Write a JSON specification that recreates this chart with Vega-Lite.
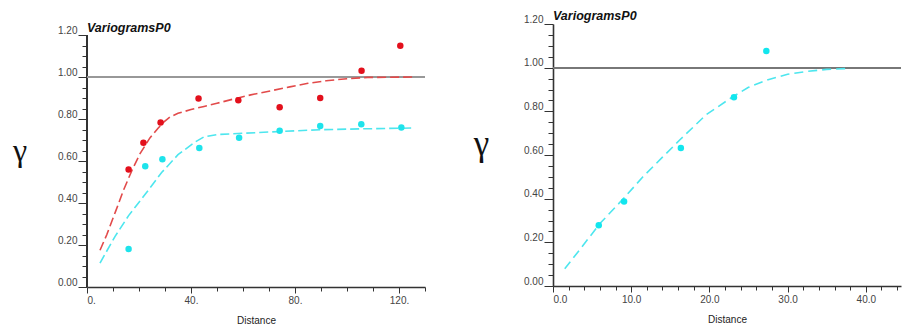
{
  "$schema": "https://vega.github.io/schema/vega-lite/v6.json",
  "padding": {"left": 12, "top": 9, "right": 0, "bottom": 0},
  "background": "white",
  "config": {
    "view": {"stroke": null},
    "font": "Liberation Sans",
    "axis": {
      "domainColor": "#333333",
      "domainWidth": 1.6,
      "tickColor": "#333333",
      "tickWidth": 1,
      "labelFont": "Liberation Sans",
      "labelFontSize": 10,
      "labelColor": "#444444",
      "grid": false,
      "titleFont": "Liberation Sans",
      "titleFontWeight": "normal",
      "titleColor": "#222222"
    },
    "title": {"font": "Liberation Sans", "fontSize": 12.5, "fontWeight": "bold", "fontStyle": "italic", "color": "#111111", "anchor": "start", "frame": "group"}
  },
  "datasets": {
    "left": [
      {"d": 16.0, "g": 0.559, "s": "red", "k": "pt"},
      {"d": 21.7, "g": 0.687, "s": "red", "k": "pt"},
      {"d": 28.3, "g": 0.783, "s": "red", "k": "pt"},
      {"d": 42.9, "g": 0.898, "s": "red", "k": "pt"},
      {"d": 58.2, "g": 0.889, "s": "red", "k": "pt"},
      {"d": 74.1, "g": 0.856, "s": "red", "k": "pt"},
      {"d": 89.7, "g": 0.900, "s": "red", "k": "pt"},
      {"d": 105.6, "g": 1.030, "s": "red", "k": "pt"},
      {"d": 120.5, "g": 1.149, "s": "red", "k": "pt"},
      {"d": 16.0, "g": 0.181, "s": "cyan", "k": "pt"},
      {"d": 22.4, "g": 0.575, "s": "cyan", "k": "pt"},
      {"d": 29.0, "g": 0.608, "s": "cyan", "k": "pt"},
      {"d": 43.2, "g": 0.662, "s": "cyan", "k": "pt"},
      {"d": 58.5, "g": 0.711, "s": "cyan", "k": "pt"},
      {"d": 74.1, "g": 0.744, "s": "cyan", "k": "pt"},
      {"d": 89.7, "g": 0.767, "s": "cyan", "k": "pt"},
      {"d": 105.5, "g": 0.775, "s": "cyan", "k": "pt"},
      {"d": 120.9, "g": 0.760, "s": "cyan", "k": "pt"},
      {"d": 5.0, "g": 0.175, "s": "red", "k": "fit"},
      {"d": 7.6, "g": 0.249, "s": "red", "k": "fit"},
      {"d": 11.0, "g": 0.36, "s": "red", "k": "fit"},
      {"d": 14.0, "g": 0.46, "s": "red", "k": "fit"},
      {"d": 17.2, "g": 0.553, "s": "red", "k": "fit"},
      {"d": 20.4, "g": 0.635, "s": "red", "k": "fit"},
      {"d": 24.2, "g": 0.71, "s": "red", "k": "fit"},
      {"d": 27.4, "g": 0.757, "s": "red", "k": "fit"},
      {"d": 29.5, "g": 0.785, "s": "red", "k": "fit"},
      {"d": 32.0, "g": 0.81, "s": "red", "k": "fit"},
      {"d": 35.0, "g": 0.827, "s": "red", "k": "fit"},
      {"d": 40.0, "g": 0.845, "s": "red", "k": "fit"},
      {"d": 45.0, "g": 0.86, "s": "red", "k": "fit"},
      {"d": 50.0, "g": 0.875, "s": "red", "k": "fit"},
      {"d": 56.3, "g": 0.895, "s": "red", "k": "fit"},
      {"d": 63.0, "g": 0.915, "s": "red", "k": "fit"},
      {"d": 71.0, "g": 0.935, "s": "red", "k": "fit"},
      {"d": 78.0, "g": 0.953, "s": "red", "k": "fit"},
      {"d": 85.0, "g": 0.97, "s": "red", "k": "fit"},
      {"d": 92.0, "g": 0.982, "s": "red", "k": "fit"},
      {"d": 100.0, "g": 0.992, "s": "red", "k": "fit"},
      {"d": 108.0, "g": 0.998, "s": "red", "k": "fit"},
      {"d": 125.4, "g": 1.0, "s": "red", "k": "fit"},
      {"d": 5.0, "g": 0.114, "s": "cyan", "k": "fit"},
      {"d": 10.8, "g": 0.241, "s": "cyan", "k": "fit"},
      {"d": 16.0, "g": 0.34, "s": "cyan", "k": "fit"},
      {"d": 22.3, "g": 0.44, "s": "cyan", "k": "fit"},
      {"d": 28.7, "g": 0.545, "s": "cyan", "k": "fit"},
      {"d": 35.0, "g": 0.63, "s": "cyan", "k": "fit"},
      {"d": 41.5, "g": 0.69, "s": "cyan", "k": "fit"},
      {"d": 45.0, "g": 0.715, "s": "cyan", "k": "fit"},
      {"d": 50.0, "g": 0.726, "s": "cyan", "k": "fit"},
      {"d": 60.0, "g": 0.732, "s": "cyan", "k": "fit"},
      {"d": 75.0, "g": 0.741, "s": "cyan", "k": "fit"},
      {"d": 90.0, "g": 0.749, "s": "cyan", "k": "fit"},
      {"d": 105.0, "g": 0.753, "s": "cyan", "k": "fit"},
      {"d": 125.4, "g": 0.757, "s": "cyan", "k": "fit"}
    ],
    "right": [
      {"d": 5.85, "g": 0.278, "k": "pt"},
      {"d": 9.09, "g": 0.387, "k": "pt"},
      {"d": 16.35, "g": 0.632, "k": "pt"},
      {"d": 23.14, "g": 0.865, "k": "pt"},
      {"d": 27.28, "g": 1.076, "k": "pt"},
      {"d": 1.5, "g": 0.079, "k": "fit"},
      {"d": 3.5, "g": 0.17, "k": "fit"},
      {"d": 6.0, "g": 0.286, "k": "fit"},
      {"d": 9.0, "g": 0.40, "k": "fit"},
      {"d": 11.5, "g": 0.50, "k": "fit"},
      {"d": 14.0, "g": 0.59, "k": "fit"},
      {"d": 16.3, "g": 0.672, "k": "fit"},
      {"d": 19.6, "g": 0.785, "k": "fit"},
      {"d": 23.0, "g": 0.867, "k": "fit"},
      {"d": 25.0, "g": 0.91, "k": "fit"},
      {"d": 27.5, "g": 0.945, "k": "fit"},
      {"d": 30.0, "g": 0.97, "k": "fit"},
      {"d": 32.5, "g": 0.983, "k": "fit"},
      {"d": 35.0, "g": 0.992, "k": "fit"},
      {"d": 37.6, "g": 0.996, "k": "fit"}
    ]
  },
  "spacing": 47,
  "hconcat": [
    {
      "width": 338,
      "height": 263,
      "title": {"text": "VariogramsP0", "offset": -10},
      "data": {"name": "left"},
      "encoding": {
        "x": {"field": "d", "type": "quantitative", "scale": {"domain": [0, 130], "nice": false, "zero": false},
          "axis": {"title": "Distance", "values": [0,10,20,30,40,50,60,70,80,90,100,110,120,130],
            "labelExpr": "datum.value % 40 == 0 ? datum.value + '.' : ''",
            "tickSize": {"condition": {"test": "datum.value % 40 == 0", "value": 6}, "value": 4},
            "labelPadding": 2, "titlePadding": 10, "titleFontSize": 10}},
        "y": {"field": "g", "type": "quantitative", "scale": {"domain": [0, 1.2524], "nice": false},
          "axis": {"title": "γ", "titleAngle": 0, "titleFont": "Liberation Serif", "titleFontSize": 32, "titleColor": "#111111",
            "titleX": -67.5, "titleY": 136, "titleAlign": "center", "titleBaseline": "alphabetic", "domain": false,
            "values": [0,0.05,0.1,0.15,0.2,0.25,0.3,0.35,0.4,0.45,0.5,0.55,0.6,0.65,0.7,0.75,0.8,0.85,0.9,0.95,1,1.05,1.1,1.15,1.2],
            "labelExpr": "round(datum.value*100) % 20 == 0 ? format(datum.value, '.2f') : ''",
            "tickSize": {"condition": {"test": "round(datum.value*100) % 20 == 0", "value": 9}, "value": 5},
            "labelBaseline": "bottom", "labelPadding": 1}}
      },
      "layer": [
        {"mark": {"type": "rule", "color": "#333333", "strokeWidth": 1.6}, "encoding": {"x": {"datum": 0}, "y": {"datum": 0}, "y2": {"datum": 1.2}}},
        {"mark": {"type": "rule", "color": "#999999", "strokeWidth": 1.3}, "encoding": {"y": {"datum": 1}, "x": {"value": 0}, "x2": {"value": 338}}},
        {"transform": [{"filter": "datum.k == 'fit' && datum.s == 'red'"}], "mark": {"type": "line", "color": "#e24a4a", "strokeWidth": 1.6, "strokeDash": [9, 4]}},
        {"transform": [{"filter": "datum.k == 'fit' && datum.s == 'cyan'"}], "mark": {"type": "line", "color": "#4de6ee", "strokeWidth": 1.6, "strokeDash": [9, 4]}},
        {"transform": [{"filter": "datum.k == 'pt' && datum.s == 'red'"}], "mark": {"type": "circle", "color": "#e3101c", "size": 42, "opacity": 1}},
        {"transform": [{"filter": "datum.k == 'pt' && datum.s == 'cyan'"}], "mark": {"type": "circle", "color": "#1ee3eb", "size": 42, "opacity": 1}}
      ]
    },
    {
      "width": 348,
      "height": 262,
      "title": {"text": "VariogramsP0", "offset": -8},
      "data": {"name": "right"},
      "encoding": {
        "x": {"field": "d", "type": "quantitative", "scale": {"domain": [0, 44.5], "nice": false, "zero": false},
          "axis": {"title": "Distance", "values": [0,2,4,6,8,10,12,14,16,18,20,22,24,26,28,30,32,34,36,38,40,42,44],
            "labelExpr": "datum.value % 10 == 0 ? format(datum.value, '.1f') : ''",
            "tickSize": {"condition": {"test": "datum.value % 10 == 0", "value": 6}, "value": 4},
            "labelPadding": 2, "titlePadding": 10, "titleFontSize": 10}},
        "y": {"field": "g", "type": "quantitative", "scale": {"domain": [0, 1.2], "nice": false},
          "axis": {"title": "γ", "titleAngle": 0, "titleFont": "Liberation Serif", "titleFontSize": 35, "titleColor": "#111111",
            "titleX": -72, "titleY": 130, "titleAlign": "center", "titleBaseline": "alphabetic",
            "values": [0,0.05,0.1,0.15,0.2,0.25,0.3,0.35,0.4,0.45,0.5,0.55,0.6,0.65,0.7,0.75,0.8,0.85,0.9,0.95,1,1.05,1.1,1.15,1.2],
            "labelExpr": "round(datum.value*100) % 20 == 0 ? format(datum.value, '.2f') : ''",
            "tickSize": {"condition": {"test": "round(datum.value*100) % 20 == 0", "value": 9}, "value": 5},
            "labelBaseline": "bottom", "labelPadding": 1}}
      },
      "layer": [
        {"mark": {"type": "rule", "color": "#777777", "strokeWidth": 1.3}, "encoding": {"y": {"datum": 1}, "x": {"value": 0}, "x2": {"value": 348}}},
        {"transform": [{"filter": "datum.k == 'fit'"}], "mark": {"type": "line", "color": "#4de6ee", "strokeWidth": 1.6, "strokeDash": [9, 5]}},
        {"transform": [{"filter": "datum.k == 'pt'"}], "mark": {"type": "circle", "color": "#12e6ee", "size": 42, "opacity": 1}}
      ]
    }
  ]
}
